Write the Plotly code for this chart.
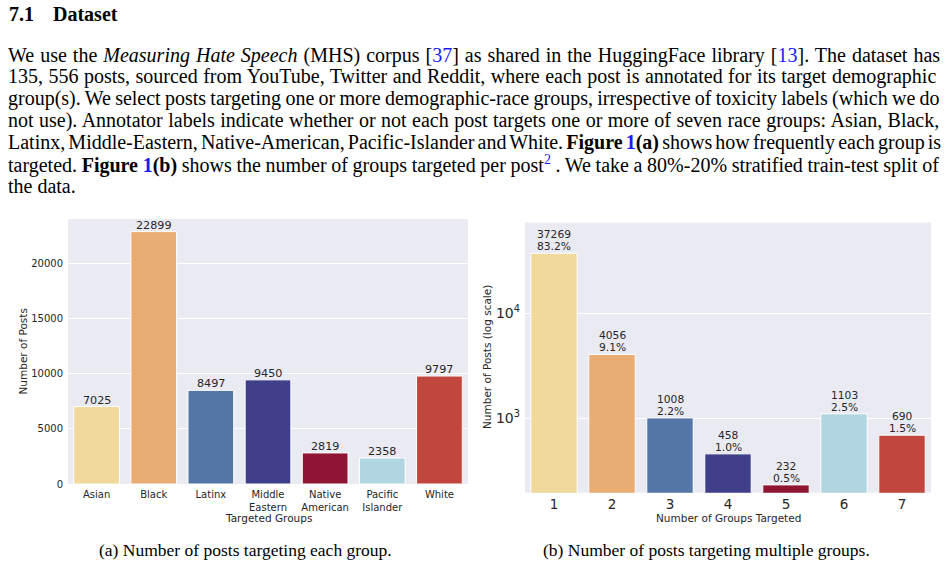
import math
import plotly.graph_objects as go

# ---------------- data ----------------
groups = ["Asian", "Black", "Latinx", "Middle Eastern", "Native American", "Pacific Islander", "White"]
group_counts = [7025, 22899, 8497, 9450, 2819, 2358, 9797]
group_ticks = [0, 5000, 10000, 15000, 20000]

n_targeted = ["1", "2", "3", "4", "5", "6", "7"]
n_counts = [37269, 4056, 1008, 458, 232, 1103, 690]
log_ticks = [1000, 10000]
log_tick_labels = ["10<sup>3</sup>", "10<sup>4</sup>"]

bar_colors = ["#F0D99B", "#E9AC73", "#5376A6", "#3F3F8A", "#8F1632", "#B2D6E1", "#C1463E"]

heading_num = "7.1"
heading_txt = "Dataset"
caption_a = "(a) Number of posts targeting each group."
caption_b = "(b) Number of posts targeting multiple groups."

# paragraph lines as (style, text) segments
para_lines = [
    [("r", "We use the "), ("i", "Measuring Hate Speech"), ("r", " (MHS) corpus ["), ("blue", "37"),
     ("r", "] as shared in the HuggingFace library ["), ("blue", "13"), ("r", "]. The dataset has")],
    [("r", "135, 556 posts, sourced from YouTube, Twitter and Reddit, where each post is annotated for its target demographic")],
    [("r", "group(s). We select posts targeting one or more demographic-race groups, irrespective of toxicity labels (which we do")],
    [("r", "not use). Annotator labels indicate whether or not each post targets one or more of seven race groups: Asian, Black,")],
    [("r", "Latinx, Middle-Eastern, Native-American, Pacific-Islander and White. "), ("b", "Figure "), ("bblue", "1"),
     ("b", "(a)"), ("r", " shows how frequently each group is")],
    [("r", "targeted. "), ("b", "Figure "), ("bblue", "1"), ("b", "(b)"),
     ("r", " shows the number of groups targeted per post"), ("sup", "2"),
     ("r", " . We take a 80%-20% stratified train-test split of")],
    [("r", "the data.")],
]
justify = [True, True, True, True, True, True, False]

# ---------------- text metrics (Times metrics, matches Liberation Serif) ----------------
W_R = {' ': 250, '!': 333, '%': 833, '(': 333, ')': 333, ',': 250, '-': 333, '.': 250, ':': 278,
       '[': 333, ']': 333, 'A': 722, 'B': 667, 'C': 667, 'D': 722, 'E': 611, 'F': 556, 'G': 722,
       'H': 722, 'I': 333, 'J': 389, 'K': 722, 'L': 611, 'M': 889, 'N': 722, 'O': 722, 'P': 556,
       'Q': 722, 'R': 667, 'S': 556, 'T': 611, 'U': 722, 'V': 722, 'W': 944, 'X': 722, 'Y': 722,
       'Z': 611, 'a': 444, 'b': 500, 'c': 444, 'd': 500, 'e': 444, 'f': 333, 'g': 500, 'h': 500,
       'i': 278, 'j': 278, 'k': 500, 'l': 278, 'm': 778, 'n': 500, 'o': 500, 'p': 500, 'q': 500,
       'r': 333, 's': 389, 't': 278, 'u': 500, 'v': 500, 'w': 722, 'x': 500, 'y': 500, 'z': 444}
for d in "0123456789":
    W_R[d] = 500
W_I = dict(W_R)
W_I.update({'M': 833, 'H': 722, 'S': 500, 'a': 500, 'k': 444, 'm': 722, 'r': 389, 'v': 444,
            'w': 667, 'x': 444, 'y': 444, 'z': 389, 'f': 278})
W_B = dict(W_R)
W_B.update({'F': 611, 'a': 500, 'b': 556, 'r': 444, 'u': 556, 'g': 500})

FS = 20.0
LEFT, RIGHT = 8.0, 942.0
BLUE = "#1a1aff"


def seg_width(style, txt):
    if style == "i":
        tab, k = W_I, 1.0
    elif style in ("b", "bblue"):
        tab, k = W_B, 1.0
    elif style == "sup":
        tab, k = W_R, 0.7
    else:
        tab, k = W_R, 1.0
    return sum(tab.get(c, 500) for c in txt) / 1000.0 * FS * k


def seg_html(style, txt):
    if style == "i":
        return "<i>" + txt + "</i>"
    if style == "b":
        return "<b>" + txt + "</b>"
    if style == "bblue":
        return "<b><span style='color:%s'>%s</span></b>" % (BLUE, txt)
    if style == "blue":
        return "<span style='color:%s'>%s</span>" % (BLUE, txt)
    if style == "sup":
        return "<sup><span style='color:%s'>%s</span></sup>" % (BLUE, txt)
    return txt


W, H = 951, 566


def px(x):
    return x / W


def py(y):
    return 1 - y / H


fig = go.Figure()

fig.add_trace(go.Bar(
    x=groups, y=group_counts, marker=dict(color=bar_colors, line=dict(color="white", width=1)),
    width=0.8, xaxis="x", yaxis="y", showlegend=False, hoverinfo="skip"))

fig.add_trace(go.Bar(
    x=n_targeted, y=n_counts, marker=dict(color=bar_colors, line=dict(color="white", width=1)),
    width=0.8, xaxis="x2", yaxis="y2", showlegend=False, hoverinfo="skip"))

tick_font = dict(family="DejaVu Sans", size=10, color="#262626")
fig.update_layout(
    width=W, height=H, margin=dict(l=0, r=0, t=0, b=0, autoexpand=False),
    paper_bgcolor="white", plot_bgcolor="#EAEAF2",
    xaxis=dict(domain=[px(68), px(468)], range=[-0.5, 6.5], type="category",
               tickvals=groups, ticktext=[g.replace(" ", "<br>") for g in groups],
               tickfont=tick_font, showgrid=False, zeroline=False, ticks="", anchor="y",
               ticklabelstandoff=3, automargin=False),
    yaxis=dict(domain=[py(484), py(219)], range=[0, max(group_counts) * 1.05],
               tickvals=group_ticks, ticktext=[str(t) for t in group_ticks], tickfont=tick_font,
               gridcolor="white", gridwidth=1, zeroline=False, ticks="", ticklabelstandoff=4,
               anchor="x", automargin=False),
    xaxis2=dict(domain=[px(525), px(931)], range=[-0.5, 6.5], type="category",
                tickfont=dict(family="DejaVu Sans", size=13.5, color="#262626"),
                showgrid=False, zeroline=False, ticks="", anchor="y2", ticklabelstandoff=2,
                automargin=False),
    yaxis2=dict(domain=[py(492.7), py(222.7)], type="log", range=[2.291, 4.863],
                tickvals=log_ticks, ticktext=log_tick_labels,
                tickfont=dict(family="DejaVu Sans", size=14, color="#262626"),
                gridcolor="white", gridwidth=1, zeroline=False, ticks="", ticklabelstandoff=4,
                anchor="x2", automargin=False),
    bargap=0.2,
)

ann = []
# bar value labels
lab_color = "#262626"
for i, v in enumerate(group_counts):
    ann.append(dict(xref="x", yref="y", x=i, y=v, text=str(v), yshift=6.5,
                    font=dict(family="DejaVu Sans", size=11.2, color=lab_color)))
total = sum(n_counts)
for i, v in enumerate(n_counts):
    ann.append(dict(xref="x2", yref="y2", x=i, y=math.log10(v), text="%.1f%%" % (100.0 * v / total),
                    yshift=6.5, font=dict(family="DejaVu Sans", size=10.7, color=lab_color)))
    ann.append(dict(xref="x2", yref="y2", x=i, y=math.log10(v), text=str(v),
                    yshift=18.5, font=dict(family="DejaVu Sans", size=10.7, color=lab_color)))

title_font = dict(family="DejaVu Sans", size=10.5, color="#262626")
ann.append(dict(x=px(22), y=py(351.5), text="Number of Posts", textangle=-90, font=title_font))
ann.append(dict(x=px(268), y=py(518), text="Targeted Groups", font=title_font))
ann.append(dict(x=px(487), y=py(357), text="Number of Posts (log scale)", textangle=-90, font=title_font))
ann.append(dict(x=px(728), y=py(518), text="Number of Groups Targeted", font=title_font))

cap_font = dict(family="Liberation Serif", size=17.5, color="black")
ann.append(dict(x=px(245), y=py(550), text=caption_a, font=cap_font))
ann.append(dict(x=px(706), y=py(550), text=caption_b, font=cap_font))

head_font = dict(family="Liberation Serif", size=20, color="black")
ann.append(dict(x=px(7), y=py(14), text="<b>%s</b>" % heading_num, font=head_font, xanchor="left"))
ann.append(dict(x=px(51), y=py(14), text="<b>%s</b>" % heading_txt, font=head_font, xanchor="left"))

body_font = dict(family="Liberation Serif", size=FS, color="black")
for i, line in enumerate(para_lines):
    html = "".join(seg_html(s, t) for s, t in line)
    if justify[i]:
        natural = sum(seg_width(s, t) for s, t in line)
        n_sp = sum(t.count(" ") for s, t in line)
        ws = (RIGHT - LEFT - natural) / n_sp
        html = "<span style='word-spacing:%.2fpx'>%s</span>" % (ws, html)
    ann.append(dict(x=px(LEFT - 2), y=py(55 + 21.83 * i), text=html, font=body_font,
                    xanchor="left", align="left"))

for a in ann:
    a.setdefault("xref", "paper")
    a.setdefault("yref", "paper")
    a.setdefault("showarrow", False)
    a.setdefault("xanchor", "center")
    a.setdefault("yanchor", "middle")
fig.update_layout(annotations=ann)

fig.write_html("out.html")
